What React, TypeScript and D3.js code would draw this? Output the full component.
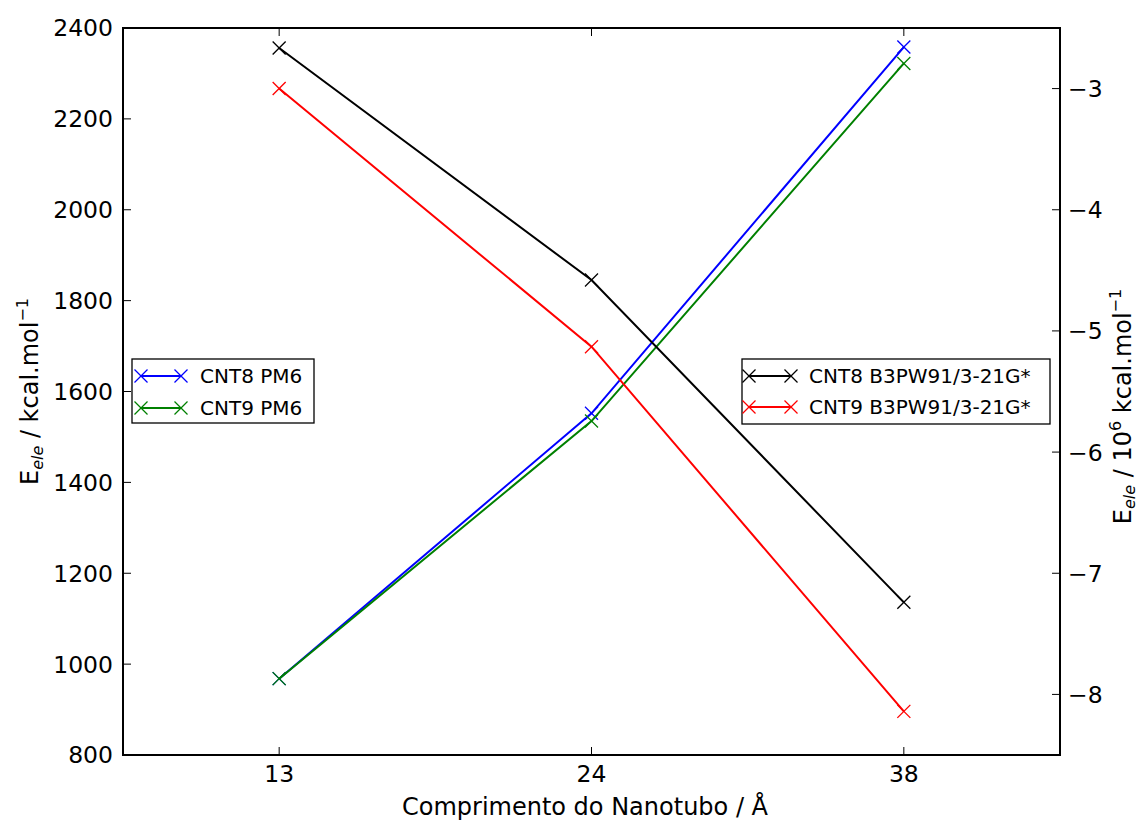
import React from "react";
import * as d3 from "d3";

const categories = ["13", "24", "38"];
const cnt8PM6 = [968, 1552, 2358];
const cnt9PM6 = [968, 1535, 2322];
const cnt8B3 = [-2.665, -4.58, -7.24];
const cnt9B3 = [-3.0, -5.13, -8.14];
const leftTicks = [800, 1000, 1200, 1400, 1600, 1800, 2000, 2200, 2400];
const rightTicks = [-8, -7, -6, -5, -4, -3];

const W = 1142, H = 821;
const L = 123, R = 1060, T = 28, B = 755;
const FONT = "DejaVu Sans, sans-serif";

function Cross({ x, y, color }: { x: number; y: number; color: string }) {
  const s = 6.5;
  return (
    <g stroke={color} strokeWidth={1.3}>
      <line x1={x - s} y1={y - s} x2={x + s} y2={y + s} />
      <line x1={x - s} y1={y + s} x2={x + s} y2={y - s} />
    </g>
  );
}

export default function App() {
  const x = d3.scaleLinear().domain([-0.5, 2.5]).range([L, R]);
  const yL = d3.scaleLinear().domain([800, 2400]).range([B, T]);
  const yR = d3.scaleLinear().domain([-8.5, -2.5]).range([B, T]);

  const series = [
    { vals: cnt8PM6, y: yL, color: "#0000ff" },
    { vals: cnt9PM6, y: yL, color: "#008000" },
    { vals: cnt8B3, y: yR, color: "#000000" },
    { vals: cnt9B3, y: yR, color: "#ff0000" },
  ];

  const line = (vals: number[], y: d3.ScaleLinear<number, number>) =>
    d3.line<number>().x((_, i) => x(i)).y((v) => y(v))(vals) || "";

  const legend = (
    lx: number, ly: number, w: number, h: number,
    items: { label: string; color: string }[], hx1: number, hx2: number, tx: number, rows: number[]
  ) => (
    <g>
      <rect x={lx} y={ly} width={w} height={h} fill="#fff" stroke="#000" strokeWidth={1.3} />
      {items.map((it, i) => (
        <g key={i}>
          <line x1={hx1} x2={hx2} y1={rows[i]} y2={rows[i]} stroke={it.color} strokeWidth={2} />
          <Cross x={hx1} y={rows[i]} color={it.color} />
          <Cross x={hx2} y={rows[i]} color={it.color} />
          <text x={tx} y={rows[i]} dy="0.36em" fontSize={20} fontFamily={FONT}>{it.label}</text>
        </g>
      ))}
    </g>
  );

  return (
    <svg width={W} height={H} style={{ position: "absolute", left: 0, top: 0 }}>
      <rect width={W} height={H} fill="#fff" />
      {series.map((s, k) => (
        <g key={k}>
          <path d={line(s.vals, s.y)} fill="none" stroke={s.color} strokeWidth={2} />
          {s.vals.map((v, i) => <Cross key={i} x={x(i)} y={s.y(v)} color={s.color} />)}
        </g>
      ))}
      {leftTicks.map((t) => (
        <g key={t}>
          <line x1={L} x2={L + 8} y1={yL(t)} y2={yL(t)} stroke="#000" strokeWidth={1} />
          <text x={L - 10} y={yL(t)} dy="0.36em" textAnchor="end" fontSize={23.5} fontFamily={FONT}>{t}</text>
        </g>
      ))}
      {rightTicks.map((t) => (
        <g key={t}>
          <line x1={R - 8} x2={R} y1={yR(t)} y2={yR(t)} stroke="#000" strokeWidth={1} />
          <text x={R + 8} y={yR(t)} dy="0.36em" textAnchor="start" fontSize={23.5} fontFamily={FONT}>{"\u2212" + Math.abs(t)}</text>
        </g>
      ))}
      {categories.map((c, i) => (
        <g key={c}>
          <line x1={x(i)} x2={x(i)} y1={B} y2={B - 8} stroke="#000" strokeWidth={1} />
          <line x1={x(i)} x2={x(i)} y1={T} y2={T + 8} stroke="#000" strokeWidth={1} />
          <text x={x(i)} y={B + 27} textAnchor="middle" fontSize={23.5} fontFamily={FONT}>{c}</text>
        </g>
      ))}
      <rect x={L} y={T} width={R - L} height={B - T} fill="none" stroke="#000" strokeWidth={2} />
      {legend(132, 359, 182, 64, [
        { label: "CNT8 PM6", color: "#0000ff" },
        { label: "CNT9 PM6", color: "#008000" },
      ], 141, 181, 200, [376, 408])}
      {legend(742, 359, 308, 65, [
        { label: "CNT8 B3PW91/3-21G*", color: "#000000" },
        { label: "CNT9 B3PW91/3-21G*", color: "#ff0000" },
      ], 749, 791, 809, [376, 407])}
      <text x={585} y={815} textAnchor="middle" fontSize={24} fontFamily={FONT}>Comprimento do Nanotubo / Å</text>
      <text transform={`translate(38, ${(T + B) / 2}) rotate(-90)`} textAnchor="middle" fontSize={24} fontFamily={FONT}>
        E<tspan fontSize={16} fontStyle="italic" dy={5}>ele</tspan><tspan dy={-5}> / kcal.mol</tspan><tspan fontSize={16} dy={-10}>−1</tspan>
      </text>
      <text transform={`translate(1131, ${(T + B) / 2 + 15}) rotate(-90)`} textAnchor="middle" fontSize={24} fontFamily={FONT}>
        E<tspan fontSize={16} fontStyle="italic" dy={4}>ele</tspan><tspan dy={-4}> / 10</tspan><tspan fontSize={16} dy={-10}>6</tspan><tspan dy={10}> kcal.mol</tspan><tspan fontSize={16} dy={-10}>−1</tspan>
      </text>
    </svg>
  );
}
